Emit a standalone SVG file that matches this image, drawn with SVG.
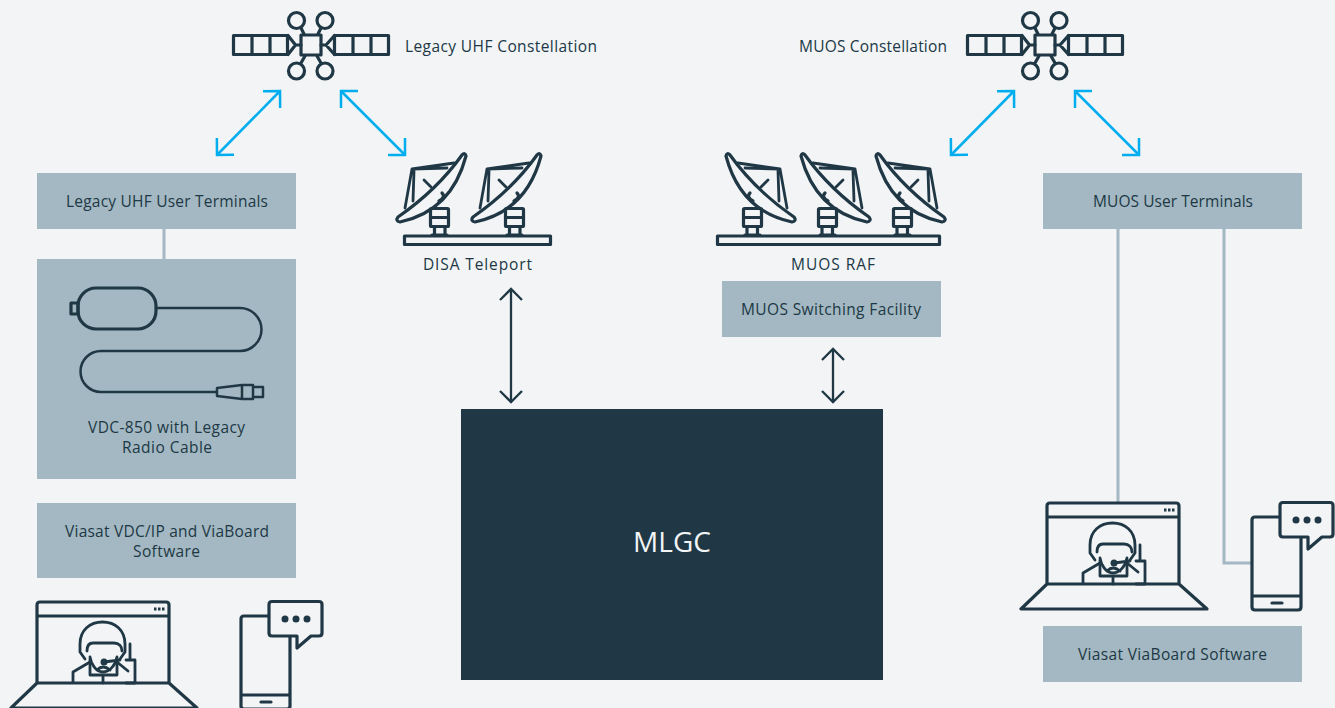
<svg xmlns="http://www.w3.org/2000/svg" width="1335" height="708" viewBox="0 0 1335 708">
<style>
.t{font-family:"Open Sans","Noto Sans","Liberation Sans",sans-serif;font-size:15.5px;fill:#203845}
.i{fill:none;stroke:#203845;stroke-width:3.200;stroke-linejoin:round;stroke-linecap:round}
.box{fill:#a3b8c2}
.lin{fill:none;stroke:#a3b8c2;stroke-width:3}
.b{fill:none;stroke:#00aeef;stroke-width:2.5;marker-start:url(#hb);marker-end:url(#hb)}
.d{fill:none;stroke:#203845;stroke-width:2.300;marker-start:url(#hd);marker-end:url(#hd)}
.dot{fill:#203845;stroke:none}
</style>
<defs>
<marker id="hb" markerUnits="userSpaceOnUse" viewBox="-20 -20 40 40" markerWidth="40" markerHeight="40" refX="0" refY="0" orient="auto-start-reverse"><path d="M-12-12L0 0L-12 12" fill="none" stroke="#00aeef" stroke-width="2.5"/></marker>
<marker id="hd" markerUnits="userSpaceOnUse" viewBox="-20 -20 40 40" markerWidth="40" markerHeight="40" refX="0" refY="0" orient="auto-start-reverse"><path d="M-11-11L0 0L-11 11" fill="none" stroke="#203845" stroke-width="2.300"/></marker>
<g id="sat" class="i">
<rect x="233.500" y="35.500" width="54" height="19"/><path d="M252 35.500V54.500M270 35.500V54.500M288 35.500L295.500 45L288 54.500M295.500 45H301"/>
<rect x="334.500" y="35.500" width="54" height="19"/><path d="M353 35.500V54.500M371 35.500V54.500M334.500 35.500L326 45L334.500 54.500M321 45H326"/>
<rect x="301" y="35" width="20" height="20"/>
<circle cx="296.500" cy="20.500" r="8"/><circle cx="325" cy="20.500" r="8"/><circle cx="296.500" cy="71" r="8"/><circle cx="325" cy="71" r="8"/>
<path d="M301 28L304 34M321 28L318 34M301 63L305 56M321 63L317 56"/>
</g>
<g id="dish" class="i">
<path d="M398 217Q437 190 462 155Q465 152 466 156Q451.500 211 400 222Q395 221 398 217Z"/>
<path d="M412 169L454 163M412 169L447 168M412 169L405 208M414 171L413 201M424 180L431 187" stroke-width="2.800"/>
<path d="M442 193Q446 197 439 201"/>
<rect x="430.500" y="208.500" width="18" height="18" rx="1"/><path d="M430.500 217.500H448.500M434.500 226.500V235M445 226.500V235M432 235H447"/>
</g>
<rect id="plate" x="404.500" y="236" width="146" height="8.500" class="i"/>
<g id="laptop" class="i">
<path d="M1047 584V506Q1047 503 1050 503H1176Q1179 503 1179 506V584ZM1047 517H1179M1047 584L1021 609H1207L1179 584"/>
<rect class="dot" x="1164" y="508.500" width="2.500" height="3"/><rect class="dot" x="1168" y="508.500" width="2.500" height="3"/><rect class="dot" x="1172" y="508.500" width="2.500" height="3"/>
<g stroke-width="2.800">
<path d="M1095 560L1090 553V545C1090 531 1100 523 1112.500 523C1125 523 1135 531 1135 545V553L1130 560"/>
<path d="M1097 552C1097 547 1099 544 1103 544H1124C1129 544 1132 547 1132 552"/>
<path d="M1100 558C1101 565 1106 573 1113 573C1120 573 1126 565 1127 558"/>
<path d="M1100 560V576H1127V560M1113 576V584M1107 571Q1113 565 1120 571M1114 563L1130 561"/>
<path d="M1083 583V573L1100 563M1127 563L1138 572M1140 545V560M1136 561H1145V584H1136"/>
</g>
<circle class="dot" cx="1114" cy="563" r="3.500"/>
</g>
<g id="phone" class="i">
<path d="M1281 517H1255Q1252 517 1252 520V607Q1252 610 1255 610H1298Q1301 610 1301 607V537M1252 596H1301M1272 603H1282"/>
<path d="M1283 502.500H1330Q1333 502.500 1333 505.500V534Q1333 537 1330 537H1322L1308 549V537H1283Q1280 537 1280 534V505.500Q1280 502.500 1283 502.500Z" style="fill:#f2f4f6"/>
<circle class="dot" cx="1296" cy="520" r="3.500"/><circle class="dot" cx="1307" cy="520" r="3.500"/><circle class="dot" cx="1318" cy="520" r="3.500"/>
</g>
</defs>
<rect width="1335" height="708" fill="#f2f4f6"/>
<g id="connectors">
<path class="lin" d="M164 229V259M1118 229V503M1224 229V563H1252"/>
<path class="b" d="M217 155L280 91"/>
<path class="b" d="M341 91L405 155"/>
<path class="b" d="M951 155L1014 91"/>
<path class="b" d="M1075 91L1139 155"/>
<path class="d" d="M511 289V402"/>
<path class="d" d="M833 349V402"/>
</g>
<g id="legacy-constellation"><use href="#sat"/><text class="t" x="405" y="52" textLength="192">Legacy UHF Constellation</text></g>
<g id="muos-constellation"><use href="#sat" x="734"/><text class="t" x="799" y="52" textLength="148">MUOS Constellation</text></g>
<g id="disa-teleport"><use href="#dish"/><use href="#dish" x="75"/><use href="#plate"/><text class="t" x="423" y="270" textLength="109">DISA Teleport</text></g>
<g id="muos-raf">
<use href="#dish" transform="matrix(-1 0 0 1 1192 0)"/><use href="#dish" transform="matrix(-1 0 0 1 1267 0)"/><use href="#dish" transform="matrix(-1 0 0 1 1342 0)"/>
<rect x="717.500" y="236" width="222" height="8.500" class="i"/>
<text class="t" x="791" y="270" textLength="84">MUOS RAF</text></g>
<g id="legacy-terminals"><rect class="box" x="37" y="173" width="259" height="56"/><text class="t" x="66" y="207" textLength="202">Legacy UHF User Terminals</text></g>
<g id="vdc-850"><rect class="box" x="37" y="259" width="259" height="220"/>
<g class="i"><rect x="78" y="288" width="78" height="41" rx="18"/><rect x="71" y="303" width="7" height="11"/>
<path d="M156 308H240A21.500 21.500 0 0 1 240 351H101A20.500 20.500 0 0 0 101 392H217M217 388L242 385V399L217 396ZM242 385H253V399H242ZM253 387H263V397H253Z" stroke-width="2.500"/></g>
<text class="t" x="88" y="433" textLength="157">VDC-850 with Legacy</text><text class="t" x="122" y="453" textLength="90">Radio Cable</text></g>
<g id="viasat-vdc"><rect class="box" x="37" y="503" width="259" height="75"/><text class="t" x="65" y="537" textLength="204">Viasat VDC/IP and ViaBoard</text><text class="t" x="133" y="557" textLength="67">Software</text></g>
<g id="left-laptop"><use href="#laptop" x="-1010" y="99"/></g>
<g id="left-phone"><use href="#phone" x="-1011" y="99"/></g>
<g id="muos-switching"><rect class="box" x="722" y="281" width="219" height="56"/><text class="t" x="741" y="315" textLength="180">MUOS Switching Facility</text></g>
<g id="mlgc"><rect x="461" y="409" width="422" height="271" fill="#203845"/><text x="672" y="552" font-family="'Open Sans','Noto Sans',sans-serif" font-size="28" fill="#f2f4f6" text-anchor="middle">MLGC</text></g>
<g id="muos-terminals"><rect class="box" x="1043" y="173" width="259" height="56"/><text class="t" x="1093" y="207" textLength="160">MUOS User Terminals</text></g>
<g id="right-laptop"><use href="#laptop"/></g>
<g id="right-phone"><use href="#phone"/></g>
<g id="viaboard"><rect class="box" x="1043" y="626" width="259" height="56"/><text class="t" x="1078" y="660" textLength="189">Viasat ViaBoard Software</text></g>
</svg>
